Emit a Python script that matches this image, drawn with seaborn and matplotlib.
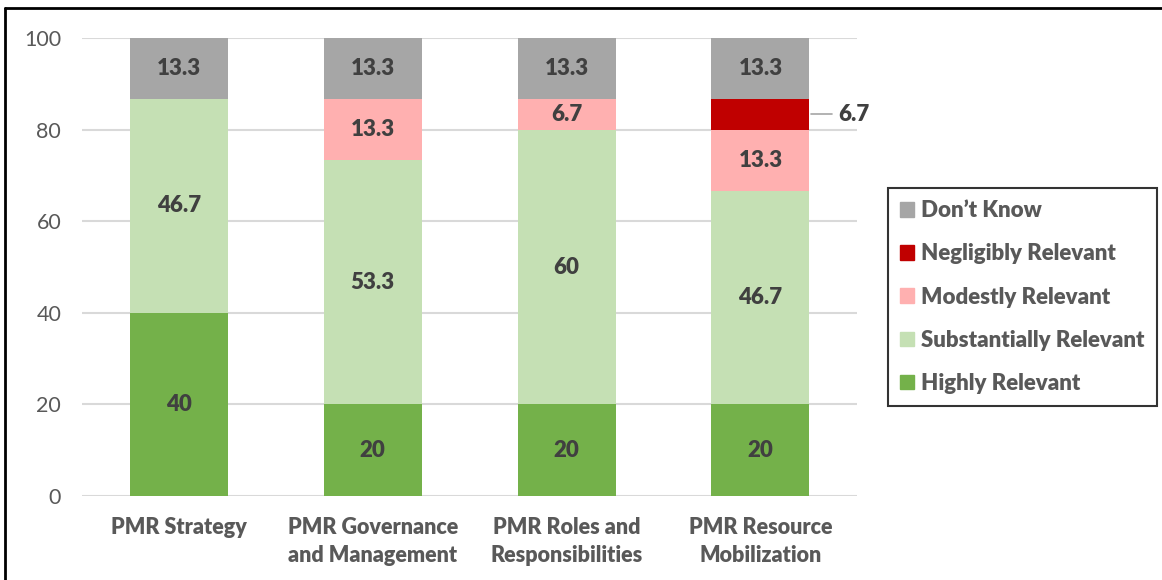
# plot.py
import matplotlib
matplotlib.use("Agg")
import matplotlib.pyplot as plt
import matplotlib.patches as mpatches
import matplotlib.lines as mlines
import numpy as np
import seaborn as sns

# Survey data (percent of respondents)
categories = ["PMR Strategy", "PMR Governance\nand Management",
              "PMR Roles and\nResponsibilities", "PMR Resource\nMobilization"]
highly = [40, 20, 20, 20]
substantially = [46.7, 53.3, 60, 46.7]
modestly = [0, 13.3, 6.7, 13.3]
negligibly = [0, 0, 0, 6.7]
dont_know = [13.3, 13.3, 13.3, 13.3]

series_names = ["Highly Relevant", "Substantially Relevant", "Modestly Relevant",
                "Negligibly Relevant", "Don\u2019t Know"]
series_vals = [highly, substantially, modestly, negligibly, dont_know]
colors = ["#74B14A", "#C5E0B4", "#FFB0B0", "#C00000", "#A6A6A6"]

sns.set_theme(style="white")
plt.rcParams["font.family"] = ["Lato", "DejaVu Sans"]

fig = plt.figure(figsize=(11.62, 5.80), dpi=100)
ax = fig.add_axes([0.0706, 0.1448, 0.6672, 0.7897])

# Stack by drawing cumulative totals, tallest first
vals = np.array(series_vals, dtype=float)
cum = np.cumsum(vals, axis=0)
for k in range(len(series_names) - 1, -1, -1):
    sns.barplot(x=categories, y=cum[k], color=colors[k], width=0.505,
                saturation=1, ax=ax, zorder=2, edgecolor="none")

# Value labels
bottoms = cum - vals
for k in range(len(series_names)):
    for i in range(len(categories)):
        v = vals[k, i]
        if v == 0:
            continue
        label = f"{v:g}"
        mid = bottoms[k, i] + v / 2
        if series_names[k] == "Negligibly Relevant":
            ax.plot([i + 0.26, i + 0.37], [mid, mid], color="#A6A6A6", lw=1.2,
                    clip_on=False, zorder=3)
            ax.text(i + 0.40, mid, label, ha="left", va="center", fontsize=16,
                    fontweight="heavy", color="#404040", clip_on=False)
        else:
            ax.text(i, mid, label, ha="center", va="center", fontsize=16,
                    fontweight="heavy", color="#404040")

ax.set_ylim(0, 100)
ax.set_xlim(-0.5, 3.5)
ax.set_yticks(range(0, 101, 20))
ax.yaxis.grid(True, color="#D9D9D9", lw=1.5, zorder=0)
ax.set_axisbelow(True)
for s in ax.spines.values():
    s.set_visible(False)
ax.tick_params(axis="y", labelsize=15.5, colors="#595959", length=0, pad=15)
ax.tick_params(axis="x", labelsize=15.5, colors="#595959", length=0, pad=15)
for t in ax.get_xticklabels():
    t.set_fontweight("heavy")
    t.set_linespacing(1.45)
ax.set_xlabel("")
ax.set_ylabel("")

# Legend (top to bottom: Don't Know ... Highly Relevant)
handles = [mpatches.Patch(color=colors[k], label=series_names[k])
           for k in range(len(series_names) - 1, -1, -1)]
leg = fig.legend(handles=handles, loc="center left",
                 bbox_to_anchor=(888 / 1162, 1 - 297 / 580),
                 frameon=True, fancybox=False, edgecolor="black",
                 prop={"size": 16, "weight": "heavy"},
                 handlelength=0.63, handleheight=0.63, handletextpad=0.3,
                 labelspacing=1.0, borderpad=0.55, borderaxespad=0)
leg.get_frame().set_linewidth(1.5)
for t in leg.get_texts():
    t.set_color("#595959")

# Outer frame (left and top edges visible)
fig.add_artist(mlines.Line2D([5 / 1162, 5 / 1162], [0, 1 - 8 / 580],
                             transform=fig.transFigure, color="black", lw=2))
fig.add_artist(mlines.Line2D([5 / 1162, 1], [1 - 8 / 580, 1 - 8 / 580],
                             transform=fig.transFigure, color="black", lw=2))

plt.savefig("out.png", dpi=100)
